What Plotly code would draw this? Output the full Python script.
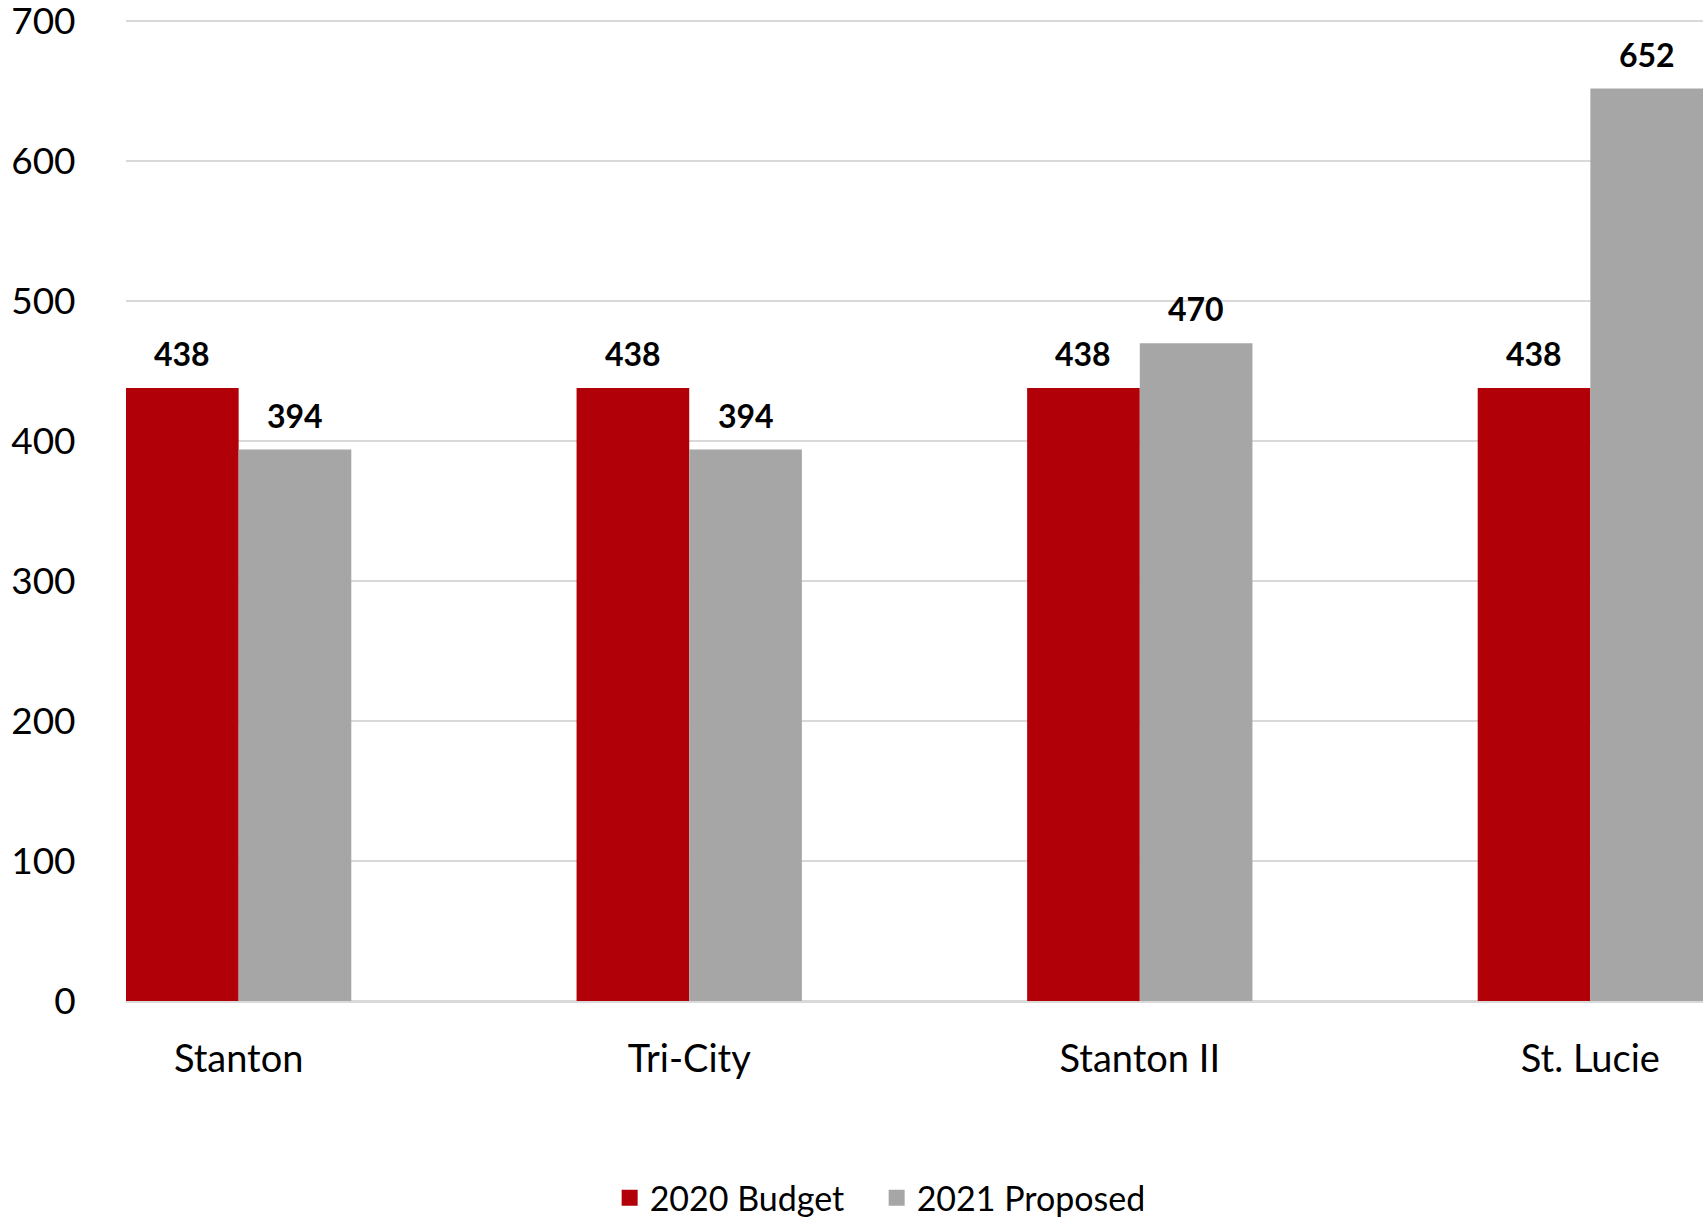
import plotly.graph_objects as go

categories = ["Stanton", "Tri-City", "Stanton II", "St. Lucie"]
budget_2020 = [438, 438, 438, 438]
proposed_2021 = [394, 394, 470, 652]
series_names = ["2020 Budget", "2021 Proposed"]
y_ticks = [0, 100, 200, 300, 400, 500, 600, 700]
title_text = "Agency Cost Allocation Comparison by Project ($000)"

RED = "#B20009"
GRAY = "#A5A6A5"
FONT = "Lato, 'Open Sans', sans-serif"

fig = go.Figure()
for name, vals, col in [(series_names[0], budget_2020, RED), (series_names[1], proposed_2021, GRAY)]:
    fig.add_trace(go.Bar(x=categories, y=vals, name=name, marker=dict(color=col, line=dict(width=0)),
                         showlegend=False, hoverinfo="x+y"))
    fig.add_trace(go.Scatter(x=[None], y=[None], mode="markers", name=name,
                             marker=dict(symbol="square", size=22, color=col)))

BAR_PX = 1577 / 3.5 * 0.25
for vals, sh in [(budget_2020, -BAR_PX / 2), (proposed_2021, BAR_PX / 2)]:
    for c, v in zip(categories, vals):
        fig.add_annotation(x=c, y=v, xref="x", yref="y", text=f"<b>{v}</b>", showarrow=False,
                           xshift=sh, yshift=13, yanchor="bottom",
                           font=dict(family=FONT, size=32, color="#000000"))

fig.add_annotation(x=0.475, y=1, xref="paper", yref="paper", text=f"<b>{title_text}</b>",
                   showarrow=False, yanchor="bottom", yshift=17,
                   font=dict(family=FONT, size=42, color="#000000"))

fig.update_layout(
    width=1703, height=1219,
    margin=dict(l=126, r=0, t=20, b=218),
    paper_bgcolor="white", plot_bgcolor="white",
    barmode="group", bargap=0.5, bargroupgap=0,
    font=dict(family=FONT, size=37, color="#000000"),
    legend=dict(orientation="h", x=0.476, xanchor="center", yref="container", y=0.0172,
                yanchor="middle", font=dict(family=FONT, size=34, color="#000000"),
                itemwidth=30, tracegroupgap=0, entrywidth=222, entrywidthmode="pixels"),
    xaxis=dict(range=[-0.25, 3.25], showgrid=False, showline=False, zeroline=False,
               automargin=False,
               ticks="outside", ticklen=24, tickcolor="rgba(0,0,0,0)",
               tickfont=dict(family=FONT, size=38)),
    yaxis=dict(range=[0, 701], tickvals=y_ticks, showgrid=True, gridcolor="#D9D9D9", gridwidth=2,
               zeroline=True, zerolinecolor="#D9D9D9", zerolinewidth=3, showline=False,
               automargin=False,
               ticks="outside", ticklen=42, tickcolor="rgba(0,0,0,0)",
               ticklabeloverflow="allow",
               tickfont=dict(family=FONT, size=37)),
)

fig.write_html("out.html")
